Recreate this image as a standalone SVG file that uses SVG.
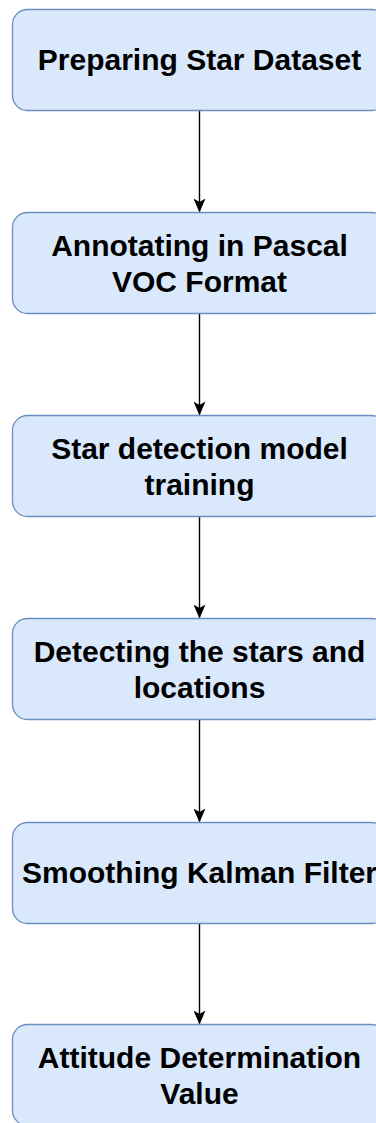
<svg xmlns="http://www.w3.org/2000/svg" width="376" height="1123" viewBox="0 0 376 1123">
  <defs>
    <style>
      .box { fill: #dae8fc; stroke: #6c8ebf; stroke-width: 1.3; }
      .lbl { font-family: "Liberation Sans", Arial, Helvetica, sans-serif; font-weight: bold; font-size: 30px; fill: #000000; text-anchor: middle; }
      .edge { stroke: #000000; stroke-width: 1.4; fill: none; }
    </style>
    <marker id="arrow" viewBox="0 0 14 12" refX="13" refY="6" markerWidth="14" markerHeight="12" markerUnits="userSpaceOnUse" orient="auto">
      <path d="M0,0 L14,6 L0,12 L3.5,6 Z" fill="#000000"/>
    </marker>
  </defs>
  <rect width="376" height="1123" fill="#ffffff"/>

  <!-- connectors -->
  <g id="edges">
    <path class="edge" d="M199.5,110 V211.5" marker-end="url(#arrow)"/>
    <path class="edge" d="M199.5,313 V414.5" marker-end="url(#arrow)"/>
    <path class="edge" d="M199.5,516 V617.5" marker-end="url(#arrow)"/>
    <path class="edge" d="M199.5,719 V821.5" marker-end="url(#arrow)"/>
    <path class="edge" d="M199.5,923 V1023.5" marker-end="url(#arrow)"/>
  </g>

  <!-- process steps -->
  <g id="step1">
    <rect class="box" x="12.5" y="9.5" width="374" height="101" rx="15" ry="15"/>
    <text class="lbl" x="199.5" y="70">Preparing Star Dataset</text>
  </g>
  <g id="step2">
    <rect class="box" x="12.5" y="212.5" width="374" height="101" rx="15" ry="15"/>
    <text class="lbl" x="199.5" y="255.5">Annotating in Pascal</text>
    <text class="lbl" x="199.5" y="291.5">VOC Format</text>
  </g>
  <g id="step3">
    <rect class="box" x="12.5" y="415.5" width="374" height="101" rx="15" ry="15"/>
    <text class="lbl" x="199.5" y="458.5">Star detection model</text>
    <text class="lbl" x="199.5" y="494.5">training</text>
  </g>
  <g id="step4">
    <rect class="box" x="12.5" y="618.5" width="374" height="101" rx="15" ry="15"/>
    <text class="lbl" x="199.5" y="661.5">Detecting the stars and</text>
    <text class="lbl" x="199.5" y="697.5">locations</text>
  </g>
  <g id="step5">
    <rect class="box" x="12.5" y="822.5" width="374" height="101" rx="15" ry="15"/>
    <text class="lbl" x="199.5" y="883">Smoothing Kalman Filter</text>
  </g>
  <g id="step6">
    <rect class="box" x="12.5" y="1024.5" width="374" height="101" rx="15" ry="15"/>
    <text class="lbl" x="199.5" y="1068">Attitude Determination</text>
    <text class="lbl" x="199.5" y="1104">Value</text>
  </g>
</svg>
